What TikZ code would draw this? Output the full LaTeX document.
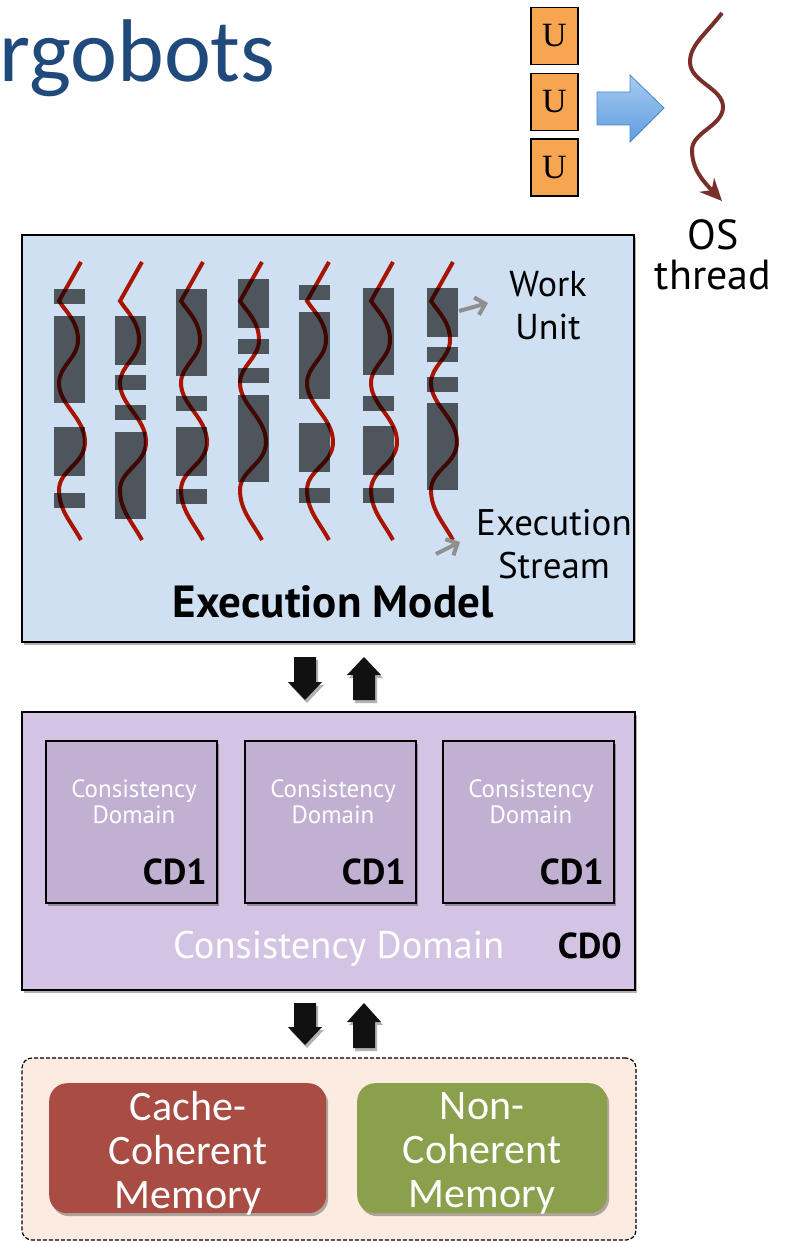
\documentclass[tikz,border=0pt]{standalone}
\usepackage{fontspec}
\setmainfont{PT Sans}
\newfontfamily\titlefont{Carlito}
\newfontfamily\memfont{Carlito}
\newfontfamily\ufont{Liberation Serif}
\usetikzlibrary{arrows.meta,shadows}

\definecolor{titleblue}{HTML}{204A7C}
\definecolor{uorange}{HTML}{F8A552}
\definecolor{embg}{HTML}{CFE0F2}
\definecolor{thrred}{HTML}{A81400}
\definecolor{cdouter}{HTML}{D3C4E4}
\definecolor{cdinner}{HTML}{C1B0D2}
\definecolor{membg}{HTML}{FCEBE0}
\definecolor{ccmred}{HTML}{A84C44}
\definecolor{ncmgreen}{HTML}{8BA04C}
\definecolor{osbrown}{HTML}{7A2F2B}
\definecolor{pointgray}{HTML}{8F8F8F}
\definecolor{blockblack}{HTML}{111111}
\definecolor{arrowtop}{HTML}{A6CBF2}
\definecolor{arrowbot}{HTML}{5F9EE0}
\definecolor{arrowline}{HTML}{4F86C4}

\tikzset{
  softshadow/.style={drop shadow={shadow xshift=2pt,shadow yshift=-3pt,opacity=0.3,fill=black}},
  panel/.style={draw=black,line width=1.5pt,inner sep=0pt,outer sep=0pt,anchor=north west,softshadow},
  ubox/.style={draw=black,line width=1.6pt,fill=uorange,minimum width=47pt,minimum height=57pt,
    inner sep=0pt,font=\ufont\fontsize{34}{34}\selectfont},
  thr/.style={draw=thrred,line width=4pt},
  wu/.style={fill=black,fill opacity=0.62},
  pointer/.style={draw=pointgray,line width=4pt,-{Straight Barb[length=9pt,width=18pt]}},
  blockarrow/.style={fill=blockblack,softshadow},
  label/.style={align=center,inner sep=0pt,font=\fontsize{36}{43}\selectfont},
  cdsmall/.style={align=center,inner sep=0pt,text=white,font=\fontsize{25}{26}\selectfont},
  cdtag/.style={anchor=base east,inner sep=0pt,font=\bfseries\fontsize{36}{36}\selectfont},
  memtext/.style={align=center,inner sep=0pt,text=white,font=\memfont\fontsize{42}{44}\selectfont},
}

\begin{document}
\begin{tikzpicture}[x=1pt,y=-1pt]
\useasboundingbox (0,0) rectangle (792,1241);

% heading
\node[anchor=base west,inner sep=0pt,text=titleblue,font=\titlefont\fontsize{89}{89}\selectfont] (title) at (-1,82) {rgobots};

% user-level work units mapped onto an OS thread
\node[ubox] (u1) at (554.5,36) {U};
\node[ubox] (u2) at (554.5,102) {U};
\node[ubox] (u3) at (554.5,167.5) {U};
\shade[top color=arrowtop,bottom color=arrowbot,draw=arrowline,line width=0.8pt]
  (597,92) -- (630,92) -- (630,75) -- (664,108) -- (630,142) -- (630,125) -- (597,125) -- cycle;
\draw[draw=osbrown,line width=4pt,-{Stealth[length=22pt,width=20pt,inset=7pt]}]
  (722,13) .. controls (705,35) and (690,45) .. (690,62)
  .. controls (690,82) and (723,88) .. (723,107)
  .. controls (723,126) and (692,132) .. (692,150)
  .. controls (692,170) and (704,182) .. (722,201);
\node[label,font=\fontsize{42}{40}\selectfont] (ostext) at (713,255) {OS\\thread};

% execution model
\node[panel,fill=embg,minimum width=612pt,minimum height=407pt] (em) at (22,235) {};
\foreach \t in {81,142,203,262,329,393,453}{
  \draw[thr] (\t,262) -- (\t-22,301)
    .. controls (\t-14,313) and (\t-3,322) .. (\t-3,340)
    .. controls (\t-3,358) and (\t-22,366) .. (\t-22,383)
    .. controls (\t-22,405) and (\t+4,418) .. (\t+4,442)
    .. controls (\t+4,464) and (\t-22,470) .. (\t-22,490)
    .. controls (\t-22,510) and (\t-10,522) .. (\t,540);
}
\foreach \x/\a/\b in {
  54/289/304, 54/316/403, 54/427/476, 54/493/508,
  115/316/365, 115/375/390, 115/405/420, 115/432/519,
  176/289/376, 176/396/411, 176/427/476, 176/489/504,
  238/279/328, 238/339/354, 238/368/383, 238/395/482,
  299/285/300, 299/312/399, 299/423/472, 299/488/503,
  363/288/375, 363/396/411, 363/426/475, 363/488/503,
  427/288/337, 427/347/362, 427/377/392, 427/403/490}
  \fill[wu] (\x,\a) rectangle (\x+31,\b);

\node[label] (wutext) at (548,306) {Work\\Unit};
\node[label,font=\fontsize{37}{43}\selectfont] (estext) at (554,544) {Execution\\Stream};
\coordinate (wufrom) at (459,311);
\coordinate (wuto) at (488,303);
\draw[pointer] (wufrom) -- (wuto);
\coordinate (esfrom) at (436,554);
\coordinate (esto) at (460,542);
\draw[pointer] (esfrom) -- (esto);
\node[anchor=base,inner sep=0pt,font=\bfseries\fontsize{45}{45}\selectfont] (emtitle) at (333,617) {Execution Model};

% arrows between execution model and consistency domains
\fill[blockarrow] (294,657) -- (316,657) -- (316,682) -- (322,682) -- (305,700) -- (288,682) -- (294,682) -- cycle;
\fill[blockarrow] (364,657) -- (381,675) -- (375,675) -- (375,700) -- (353,700) -- (353,675) -- (347,675) -- cycle;

% consistency domains
\node[panel,fill=cdouter,minimum width=613pt,minimum height=278pt] (cd0) at (22,712) {};
\foreach \n/\x in {1/46,2/245,3/443}{
  \node[panel,fill=cdinner,minimum width=171pt,minimum height=162pt] (cd1\n) at (\x,741) {};
  \node[cdsmall] (cdname\n) at (\x+88,802) {Consistency\\Domain};
  \node[cdtag] (cdtag\n) at (\x+161,884) {CD1};
}
\node[anchor=base west,inner sep=0pt,text=white,font=\fontsize{38.5}{38.5}\selectfont] (cd0name) at (173,958) {Consistency Domain};
\node[cdtag] (cd0tag) at (622,958) {CD0};

% arrows between consistency domains and memory
\fill[blockarrow] (294,1003) -- (316,1003) -- (316,1027) -- (322,1027) -- (305,1045) -- (288,1027) -- (294,1027) -- cycle;
\fill[blockarrow] (364,1003) -- (381,1022) -- (375,1022) -- (375,1048) -- (353,1048) -- (353,1022) -- (347,1022) -- cycle;

% memory
\node[draw=black,line width=1.2pt,dash pattern=on 4pt off 2pt,rounded corners=10pt,fill=membg,
  minimum width=614pt,minimum height=182pt,inner sep=0pt,outer sep=0pt,anchor=north west] (mem) at (22,1058) {};
\node[fill=ccmred,rounded corners=18pt,minimum width=277pt,minimum height=130pt,inner sep=0pt,
  anchor=north west,softshadow] (ccm) at (49,1083) {};
\node[fill=ncmgreen,rounded corners=18pt,minimum width=250pt,minimum height=130pt,inner sep=0pt,
  anchor=north west,softshadow] (ncm) at (357,1083) {};
\node[memtext] (ccmtext) at (188,1153) {Cache-\\Coherent\\Memory};
\node[memtext] (ncmtext) at (482,1153) {Non-\\Coherent\\Memory};
\end{tikzpicture}
\end{document}
